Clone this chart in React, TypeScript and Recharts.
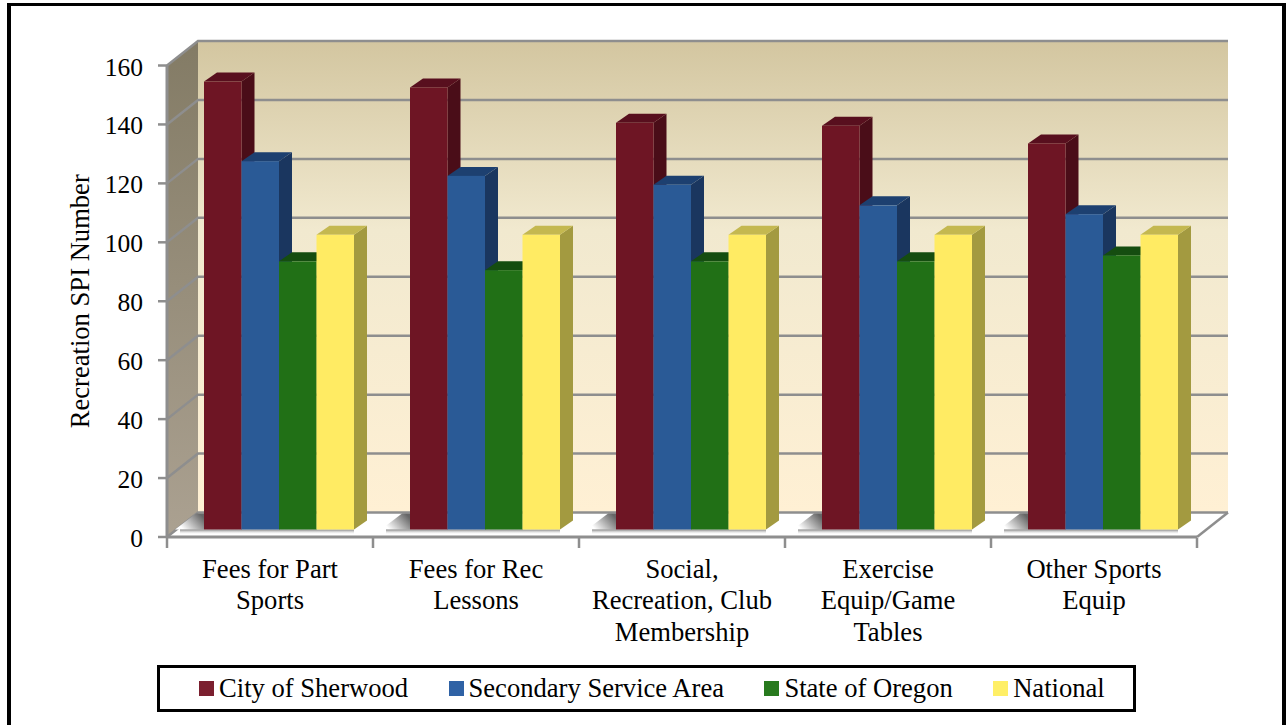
import { BarChart, Bar, XAxis, YAxis, Legend, ReferenceArea } from 'recharts';

const FONT = '"Liberation Serif", "Times New Roman", serif';
const FONT_SIZE = 26.6;
const GRAY = '#8e8e8e';

const categories = ['Fees for Part Sports', 'Fees for Rec Lessons', 'Social, Recreation, Club Membership', 'Exercise Equip/Game Tables', 'Other Sports Equip'];
const categoryLines = [
  ['Fees for Part', 'Sports'],
  ['Fees for Rec', 'Lessons'],
  ['Social,', 'Recreation, Club', 'Membership'],
  ['Exercise', 'Equip/Game', 'Tables'],
  ['Other Sports', 'Equip'],
];
const sherwood = [152, 150, 138, 137, 131];
const secondary = [125, 120, 117, 110, 107];
const oregon = [91, 88, 91, 91, 93];
const national = [100, 100, 100, 100, 100];
const yTicks = [0, 20, 40, 60, 80, 100, 120, 140, 160];

const data = categories.map((name, i) => ({
  name,
  sherwood: sherwood[i],
  secondary: secondary[i],
  oregon: oregon[i],
  national: national[i],
}));

// how far the back wall sits behind the axis plane
const WALL_DX = 31;
const WALL_DY = 24.5;
// bars stand part of the way into the floor
const BAR_DX = 9;
const BAR_DY = 7.5;
// depth of each bar
const DEPTH_X = 13;
const DEPTH_Y = 9;
const BAND = 206;

const pts = (list: number[][]) => list.map((p) => p.join(',')).join(' ');

// Walls, floor and gridlines of the 3D box
function Backdrop({ x, y, width, height }: any) {
  const bottom = y + height;
  const yAt = (t: number) => bottom - (height * t) / 160;
  return (
    <g>
      <defs>
        <linearGradient id="backWall" x1="0" y1="0" x2="0" y2="1">
          <stop offset="0%" stopColor="#d3c6a0" />
          <stop offset="40%" stopColor="#f1e9cf" />
          <stop offset="100%" stopColor="#fff0d4" />
        </linearGradient>
        <linearGradient id="sideWall" x1="0" y1="0" x2="0" y2="1">
          <stop offset="0%" stopColor="#837b65" />
          <stop offset="100%" stopColor="#aba191" />
        </linearGradient>
        <linearGradient id="floorShadow" x1="0" y1="0.8" x2="1" y2="0.3">
          <stop offset="15%" stopColor="#ffffff" />
          <stop offset="100%" stopColor="#666666" />
        </linearGradient>
        <linearGradient id="stripShadow" x1="0" y1="0" x2="0" y2="1">
          <stop offset="0%" stopColor="#6a6a6a" stopOpacity={0.85} />
          <stop offset="100%" stopColor="#ffffff" stopOpacity={0} />
        </linearGradient>
      </defs>
      <rect x={x + WALL_DX} y={y - WALL_DY} width={width} height={height} fill="url(#backWall)" />
      <polygon
        points={pts([[x, y], [x + WALL_DX, y - WALL_DY], [x + WALL_DX, bottom - WALL_DY], [x, bottom]])}
        fill="url(#sideWall)"
      />
      <polygon
        points={pts([[x, bottom], [x + WALL_DX, bottom - WALL_DY], [x + width + WALL_DX, bottom - WALL_DY], [x + width, bottom]])}
        fill="#ffffff"
      />
      {yTicks.map((t) => (
        <polyline
          key={t}
          points={pts([[x, yAt(t)], [x + WALL_DX, yAt(t) - WALL_DY], [x + width + WALL_DX, yAt(t) - WALL_DY]])}
          fill="none"
          stroke={GRAY}
          strokeWidth={2.5}
        />
      ))}
      <line x1={x + width} y1={bottom} x2={x + width + WALL_DX} y2={bottom - WALL_DY} stroke={GRAY} strokeWidth={2.5} />
    </g>
  );
}

// One bar as a front face with a side and a top, offset into the box
function Bar3D({ x, y, width, height, faces, shadow }: any) {
  const left = x + BAR_DX;
  const right = left + width;
  const top = y - BAR_DY;
  const base = top + height;
  return (
    <g>
      {shadow && (
        <>
          <polygon
            points={pts([[left - 29, base], [left - 8, base - 16], [left, base - 16], [left, base]])}
            fill="url(#floorShadow)"
          />
          <rect x={left - 24} y={base} width={width * 4 + 24} height={5} fill="url(#stripShadow)" />
        </>
      )}
      <polygon
        points={pts([[right, top], [right + DEPTH_X, top - DEPTH_Y], [right + DEPTH_X, base - DEPTH_Y], [right, base]])}
        fill={faces.side}
      />
      <polygon
        points={pts([[left, top], [left + DEPTH_X, top - DEPTH_Y], [right + DEPTH_X, top - DEPTH_Y], [right, top]])}
        fill={faces.top}
      />
      <rect x={left} y={top} width={width} height={height} fill={faces.front} />
    </g>
  );
}

// Wrapped category label plus the tick marks that sit on the band edges
function CategoryTick({ x, y, index, payload }: any) {
  const lines = categoryLines[index] ?? [payload.value];
  return (
    <g>
      <line x1={x - BAND / 2} y1={y - 1} x2={x - BAND / 2} y2={y + 9} stroke={GRAY} strokeWidth={2.5} />
      {index === categories.length - 1 && (
        <line x1={x + BAND / 2} y1={y - 1} x2={x + BAND / 2} y2={y + 9} stroke={GRAY} strokeWidth={2.5} />
      )}
      <text x={x} textAnchor="middle" fontFamily={FONT} fontSize={FONT_SIZE} fill="#000">
        {lines.map((line: string, i: number) => (
          <tspan key={i} x={x} y={y + 38.5 + i * 31.5}>
            {line}
          </tspan>
        ))}
      </text>
    </g>
  );
}

function LegendBox({ payload }: any) {
  return (
    <div
      style={{
        boxSizing: 'border-box',
        width: 979,
        height: 47,
        border: '3px solid #000',
        background: '#fff',
        display: 'flex',
        alignItems: 'center',
        paddingLeft: 39,
        gap: 40.4,
        fontFamily: FONT,
        fontSize: FONT_SIZE,
        color: '#000',
        whiteSpace: 'nowrap',
      }}
    >
      {payload.map((entry: any) => (
        <div key={entry.value} style={{ display: 'flex', alignItems: 'center' }}>
          <span style={{ width: 15, height: 15, background: entry.color, marginRight: 5 }} />
          {entry.value}
        </div>
      ))}
    </div>
  );
}

const series = [
  { key: 'sherwood', name: 'City of Sherwood', swatch: '#7b1f2f', faces: { front: '#6e1524', side: '#4a0d18', top: '#580f1e' } },
  { key: 'secondary', name: 'Secondary Service Area', swatch: '#2f62a5', faces: { front: '#2a5a96', side: '#1a365f', top: '#1d4070' } },
  { key: 'oregon', name: 'State of Oregon', swatch: '#287a1e', faces: { front: '#217016', side: '#154d10', top: '#154d10' } },
  { key: 'national', name: 'National', swatch: '#ffef66', faces: { front: '#ffeb63', side: '#a39a40', top: '#c4b850' } },
];

export default function App() {
  return (
    <div style={{ position: 'absolute', left: 0, top: 0, width: 1286, height: 725, overflow: 'hidden', background: '#fff' }}>
      <div
        style={{
          position: 'absolute',
          left: 7,
          top: 3,
          width: 1279,
          height: 760,
          boxSizing: 'border-box',
          borderLeft: '4px solid #000',
          borderTop: '3px solid #000',
          borderRight: '4px solid #000',
        }}
      />
      <div style={{ position: 'absolute', left: 0, top: 0 }}>
        <BarChart
          width={1286}
          height={725}
          data={data}
          margin={{ top: 65.5, right: 89, bottom: 0, left: 97 }}
          barGap={0}
          barSize={37.5}
        >
          <XAxis
            dataKey="name"
            axisLine={{ stroke: GRAY, strokeWidth: 3 }}
            tickLine={false}
            tickSize={0}
            height={141}
            interval={0}
            tick={<CategoryTick />}
          />
          <YAxis
            domain={[0, 160]}
            ticks={yTicks}
            width={70}
            axisLine={{ stroke: GRAY, strokeWidth: 3 }}
            tickLine={{ stroke: GRAY, strokeWidth: 2.5 }}
            tickSize={9}
            tickMargin={15}
            tick={{ fill: '#000', fontSize: 25.5, fontFamily: FONT, dy: 1 }}
            label={{
              value: 'Recreation SPI Number',
              angle: -90,
              position: 'insideLeft',
              offset: -17,
              style: { textAnchor: 'middle', fontSize: FONT_SIZE, fontFamily: FONT, fill: '#000' },
            }}
          />
          <ReferenceArea y1={0} y2={160} shape={<Backdrop />} />
          {series.map((s, i) => (
            <Bar
              key={s.key}
              dataKey={s.key}
              name={s.name}
              fill={s.swatch}
              isAnimationActive={false}
              shape={(props: any) => <Bar3D {...props} faces={s.faces} shadow={i === 0} />}
            />
          ))}
          <Legend
            align="left"
            verticalAlign="bottom"
            itemSorter={null}
            content={<LegendBox />}
            wrapperStyle={{ left: 157, bottom: 13, width: 979, height: 47 }}
          />
        </BarChart>
      </div>
    </div>
  );
}
